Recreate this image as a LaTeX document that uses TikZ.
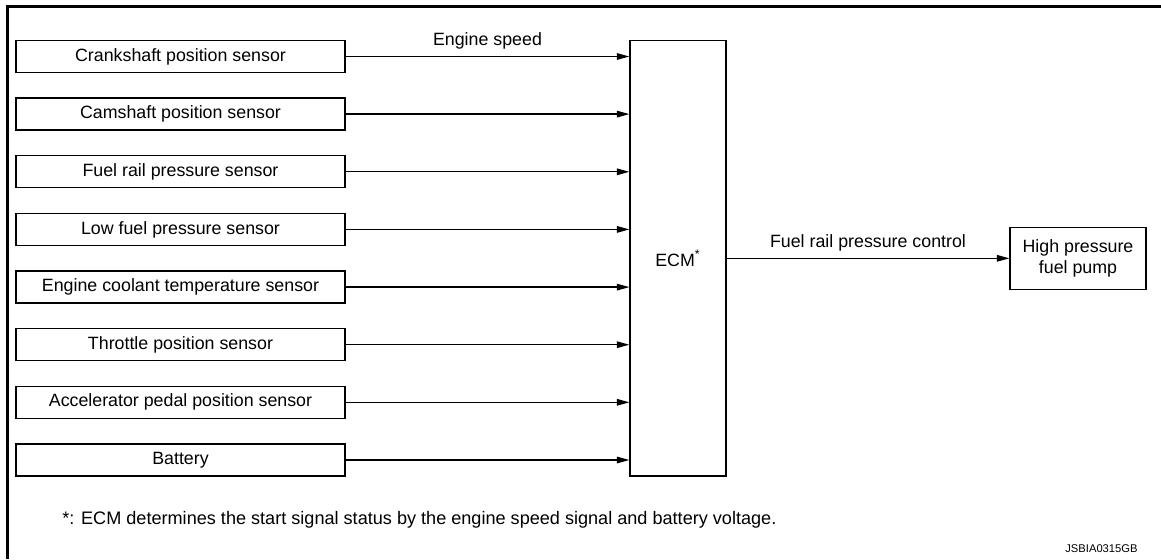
\documentclass[tikz,border=0pt]{standalone}
\usepackage{fontspec}
\setmainfont{Liberation Sans}
\usetikzlibrary{arrows.meta,positioning,calc}

\begin{document}
\begin{tikzpicture}[
  x=0.5pt,y=-0.5pt,
  font=\fontsize{8.9}{10.5}\selectfont,
  box/.style={draw,line width=0.65pt,align=center,inner sep=0pt},
  sensor/.style={box,minimum width=164.5pt,minimum height=16pt},
  flow/.style={-{Triangle[length=6.3pt,width=3.3pt]},line width=0.65pt},
  frame/.style={line width=1.5pt}
]
  \useasboundingbox (0,0) rectangle (1161,559);
  \draw[frame] (7.5,559) -- (7.5,6.2) -- (1161,6.2);

  \node[sensor] (crank) at (180.5,56.5) {Crankshaft position sensor};
  \node[sensor] (cam) at (180.5,114.1) {Camshaft position sensor};
  \node[sensor] (rail) at (180.5,171.8) {Fuel rail pressure sensor};
  \node[sensor] (lowfuel) at (180.5,229.4) {Low fuel pressure sensor};
  \node[sensor] (coolant) at (180.5,287.1) {Engine coolant temperature sensor};
  \node[sensor] (throttle) at (180.5,344.7) {Throttle position sensor};
  \node[sensor] (accel) at (180.5,402.3) {Accelerator pedal position sensor};
  \node[sensor] (batt) at (180.5,460.0) {Battery};

  \node[box,minimum width=48pt,minimum height=217.7pt] (ecm) at (678,258.3) {ECM\textsuperscript{*}};
  \node[box,minimum width=68pt,minimum height=31pt] (pump) at (1078,258.3) {High pressure\\fuel pump};

  \draw[flow] (crank.east) -- node[above=0pt]{Engine speed} (crank.east -| ecm.west);
  \draw[flow] (cam.east) -- (cam.east -| ecm.west);
  \draw[flow] (rail.east) -- (rail.east -| ecm.west);
  \draw[flow] (lowfuel.east) -- (lowfuel.east -| ecm.west);
  \draw[flow] (coolant.east) -- (coolant.east -| ecm.west);
  \draw[flow] (throttle.east) -- (throttle.east -| ecm.west);
  \draw[flow] (accel.east) -- (accel.east -| ecm.west);
  \draw[flow] (batt.east) -- (batt.east -| ecm.west);
  \draw[flow] (ecm.east) -- node[above=0pt]{Fuel rail pressure control} (pump.west);

  \node[anchor=west,inner sep=0pt,font=\fontsize{9.05}{10.5}\selectfont] (note) at (62,520) {*: ECM determines the start signal status by the engine speed signal and battery voltage.};
  \node[anchor=east,inner sep=0pt,font=\fontsize{5.6}{6.5}\selectfont] (code) at (1138,549) {JSBIA0315GB};
\end{tikzpicture}
\end{document}
